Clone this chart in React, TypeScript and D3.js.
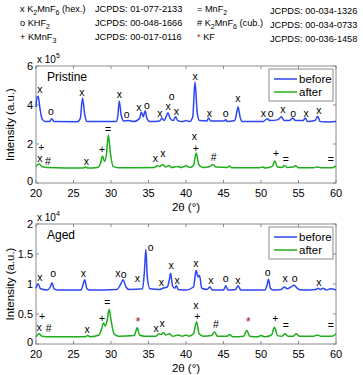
import React from "react";
import * as d3 from "d3";

// 2θ ticks shared by both panels
const xTicks = [20, 25, 30, 35, 40, 45, 50, 55, 60];

// Pristine sample (x 10^5)
const pristineBefore: [number, number][] = [
  [20, 3.9], [20.15, 4.4], [20.3, 4.45], [20.5, 3.9], [20.8, 3.3], [21.2, 3.15], [21.8, 3.15],
  [22.1, 3.3], [22.4, 3.15], [25.5, 3.14], [25.9, 3.3], [26.2, 4.36], [26.5, 3.5], [26.8, 3.15],
  [30.7, 3.15], [30.9, 3.4], [31.1, 4.2], [31.35, 3.5], [31.7, 3.18], [32.3, 3.2], [33.0, 3.15],
  [33.8, 3.3], [34.05, 3.64], [34.3, 3.4], [34.55, 3.7], [34.8, 3.3], [35.2, 3.15], [36.5, 3.18],
  [36.8, 3.33], [37.1, 3.2], [37.4, 3.45], [37.6, 3.6], [37.9, 3.3], [38.3, 3.2], [38.6, 3.4],
  [38.9, 3.2], [39.5, 3.15], [40, 3.2], [40.5, 3.15], [40.9, 3.4], [41.2, 5.18], [41.5, 3.6],
  [41.8, 3.2], [42.8, 3.18], [43.0, 3.33], [43.3, 3.18], [45.1, 3.18], [45.3, 3.25], [45.5, 3.15],
  [46.5, 3.2], [46.7, 3.5], [46.95, 3.9], [47.2, 3.4], [47.5, 3.15], [50.3, 3.15], [50.8, 3.3],
  [51.2, 3.2], [52.3, 3.25], [52.7, 3.4], [53.1, 3.2], [53.8, 3.2], [54.2, 3.33], [54.6, 3.2],
  [55.6, 3.2], [55.9, 3.33], [56.2, 3.15], [57.2, 3.2], [57.55, 3.42], [57.9, 3.15], [59, 3.13],
  [60, 3.15],
];
const pristineAfter: [number, number][] = [
  [20, 0.85], [20.4, 0.97], [20.8, 0.85], [21.5, 0.8], [26.3, 0.77], [26.6, 0.82], [26.9, 0.77],
  [28.2, 0.8], [28.6, 1.0], [28.85, 1.38], [29.15, 1.1], [29.4, 1.5], [29.65, 2.46], [29.9, 1.6],
  [30.3, 0.85], [31, 0.78], [35.8, 0.8], [36.2, 0.88], [36.5, 0.85], [36.9, 0.95], [37.3, 0.82],
  [37.7, 0.9], [38.1, 0.8], [38.8, 0.85], [39.4, 0.8], [40.0, 0.88], [40.5, 0.8], [41.0, 0.9],
  [41.35, 1.54], [41.7, 0.95], [42.2, 0.8], [43.2, 0.85], [43.6, 0.95], [44.0, 0.82], [45.5, 0.8],
  [45.8, 0.87], [46.1, 0.78], [49.8, 0.78], [50.2, 0.82], [50.6, 0.77], [51.5, 0.85], [51.85, 1.13],
  [52.2, 0.82], [52.8, 0.8], [53.1, 0.9], [53.5, 0.8], [54.3, 0.82], [54.6, 0.88], [55, 0.78],
  [57, 0.78], [57.5, 0.82], [58, 0.78], [59.5, 0.78], [60, 0.88],
];

// Aged sample (x 10^4)
const agedBefore: [number, number][] = [
  [20, 0.93], [20.3, 1.0], [20.6, 0.92], [21.5, 0.9], [21.9, 0.95], [22.15, 1.02], [22.4, 0.92],
  [23, 0.9], [26, 0.9], [26.3, 1.0], [26.5, 1.07], [26.8, 0.92], [27.2, 0.9], [30.8, 0.91],
  [31.3, 1.0], [31.6, 1.07], [32.0, 0.95], [32.4, 0.91], [34.2, 0.92], [34.45, 1.2], [34.65, 1.58],
  [34.85, 1.1], [35.2, 0.92], [36.5, 0.91], [36.9, 0.93], [37.5, 0.95], [37.75, 1.05], [37.95, 1.18],
  [38.2, 0.97], [38.5, 0.93], [38.7, 0.97], [38.95, 0.91], [40, 0.9], [41.0, 0.95], [41.35, 1.23],
  [41.6, 1.12], [41.8, 1.14], [42.1, 0.93], [42.8, 0.91], [43.2, 0.95], [43.5, 0.9], [45.0, 0.9],
  [45.3, 0.97], [45.6, 0.9], [46.6, 0.91], [46.95, 0.97], [47.3, 0.9], [50.5, 0.9], [50.8, 0.98],
  [51.0, 1.08], [51.25, 0.93], [51.6, 0.9], [52.7, 0.91], [53.1, 0.95], [53.5, 0.92], [54.0, 0.95],
  [54.4, 0.98], [54.9, 0.92], [55.5, 0.9], [57.3, 0.91], [57.6, 0.93], [57.9, 0.91], [58.3, 0.93],
  [58.7, 0.9], [59.3, 0.92], [60, 0.9],
];
const agedAfter: [number, number][] = [
  [20, 0.12], [20.4, 0.17], [20.8, 0.13], [22, 0.12], [26.6, 0.12], [26.9, 0.14], [27.2, 0.12],
  [28.4, 0.15], [28.75, 0.25], [29.0, 0.35], [29.25, 0.3], [29.5, 0.4], [29.75, 0.58], [30.0, 0.4],
  [30.4, 0.17], [31, 0.13], [33.1, 0.14], [33.5, 0.27], [33.8, 0.15], [34.5, 0.13], [36.0, 0.13],
  [36.4, 0.17], [36.7, 0.16], [37.0, 0.19], [37.3, 0.15], [37.8, 0.17], [38.2, 0.13], [39.0, 0.15],
  [39.5, 0.13], [40, 0.15], [40.4, 0.13], [41.0, 0.17], [41.4, 0.37], [41.75, 0.17], [42.3, 0.13],
  [43.4, 0.14], [43.8, 0.2], [44.2, 0.13], [45.5, 0.13], [45.8, 0.16], [46.2, 0.12], [47.7, 0.13],
  [48.1, 0.23], [48.5, 0.13], [49.5, 0.12], [50.0, 0.14], [50.5, 0.12], [51.4, 0.15], [51.8, 0.28],
  [52.2, 0.14], [52.8, 0.13], [53.2, 0.17], [53.6, 0.13], [54.3, 0.13], [54.7, 0.17], [55.1, 0.13],
  [57, 0.13], [57.5, 0.15], [58, 0.13], [59.5, 0.13], [60, 0.17],
];

// phase markers: [symbol, 2θ, intensity]
type Mark = [string, number, number];
const pristineMarks: Mark[] = [
  ["x", 20.5, 4.8], ["o", 22.0, 3.7], ["x", 26.1, 4.67], ["x", 31.1, 4.56], ["o", 32.1, 3.54],
  ["x", 33.7, 3.9], ["o", 34.8, 4.0], ["x", 36.5, 3.6], ["o", 38.1, 4.46], ["x", 37.6, 3.95],
  ["x", 38.7, 3.7], ["x", 41.2, 5.49], ["x", 43.1, 3.6], ["o", 45.3, 3.6], ["x", 46.9, 4.36],
  ["x", 50.3, 3.6], ["o", 51.3, 3.6], ["x", 52.9, 3.8], ["o", 54.3, 3.6], ["x", 56.0, 3.6],
  ["x", 57.7, 3.74],
  ["+", 20.7, 1.85], ["x", 20.5, 1.3], ["#", 21.6, 1.13], ["x", 26.7, 1.13], ["+", 28.8, 1.74],
  ["=", 29.6, 2.77], ["x", 35.9, 1.28], ["x", 36.9, 1.54], ["x", 41.1, 2.4], ["+", 41.3, 1.82],
  ["#", 43.7, 1.33], ["+", 52.0, 1.54], ["=", 53.3, 1.23], ["=", 59.3, 1.23],
];
const agedMarks: Mark[] = [
  ["x", 20.5, 1.12], ["o", 22.3, 1.18], ["x", 26.3, 1.18], ["x", 30.9, 1.18], ["o", 31.7, 1.17],
  ["x", 33.5, 1.1], ["o", 35.3, 1.62], ["x", 36.7, 1.03], ["x", 38.0, 1.32], ["x", 38.8, 1.07],
  ["x", 41.3, 1.35], ["x", 43.3, 1.07], ["o", 45.3, 1.1], ["x", 46.9, 1.07], ["o", 50.9, 1.2],
  ["x", 53.2, 1.1], ["o", 54.5, 1.1], ["x", 57.7, 1.03],
  ["+", 20.8, 0.47], ["x", 20.4, 0.29], ["#", 21.7, 0.27], ["x", 26.8, 0.25], ["+", 28.8, 0.43],
  ["=", 29.5, 0.7], ["*", 33.6, 0.37], ["x", 36.0, 0.27], ["x", 36.8, 0.35], ["x", 41.3, 0.65],
  ["+", 41.5, 0.46], ["#", 44.0, 0.33], ["*", 48.3, 0.37], ["+", 51.9, 0.43], ["=", 53.3, 0.32],
  ["=", 59.3, 0.32],
];

const FONT = "'Liberation Sans', Arial, sans-serif";
const BLUE = "#2d46f2";
const GREEN = "#1fad1c";
const STAR = "#a8202c";
const AXIS = "#8c8c8c";

const left = 36;
const right = 336;

type PanelProps = {
  top: number;
  bottom: number;
  yMax: number;
  yTicks: number[];
  exp: string;
  title: string;
  before: [number, number][];
  after: [number, number][];
  marks: Mark[];
};

const Panel = ({ top, bottom, yMax, yTicks, exp, title, before, after, marks }: PanelProps) => {
  const x = d3.scaleLinear().domain([20, 60]).range([left, right]);
  const y = d3.scaleLinear().domain([0, yMax]).range([bottom, top]);
  const line = d3
    .line<[number, number]>()
    .x((d) => x(d[0]))
    .y((d) => y(d[1]))
    .curve(d3.curveMonotoneX);
  const lx = right - 67;
  const ly = top + 3;
  return (
    <g fontFamily={FONT}>
      <rect x={left} y={top} width={right - left} height={bottom - top} fill="white" stroke={AXIS} strokeWidth={1} />
      {xTicks.map((t) => (
        <g key={"x" + t}>
          <line x1={x(t)} x2={x(t)} y1={bottom} y2={bottom - 3} stroke={AXIS} />
          <line x1={x(t)} x2={x(t)} y1={top} y2={top + 3} stroke={AXIS} />
          <text x={x(t)} y={bottom + 14} fontSize={11} textAnchor="middle">{t}</text>
        </g>
      ))}
      {yTicks.map((t) => (
        <g key={"y" + t}>
          <line x1={left} x2={left + 3} y1={y(t)} y2={y(t)} stroke={AXIS} />
          <line x1={right - 3} x2={right} y1={y(t)} y2={y(t)} stroke={AXIS} />
          <text x={left - 3} y={y(t) + (t === 0 ? 2 : 4)} fontSize={11} textAnchor="end">{t}</text>
        </g>
      ))}
      <text x={left + 1} y={top - 3} fontSize={10}>
        x 10<tspan dy={-5} fontSize={7}>{exp}</tspan>
      </text>
      <text
        transform={`translate(14,${(top + bottom) / 2}) rotate(-90)`}
        fontSize={11.5}
        textAnchor="middle"
      >
        Intensity (a.u.)
      </text>
      <text x={(left + right) / 2} y={bottom + 28} fontSize={11.5} textAnchor="middle">
        2θ (°)
      </text>
      <path d={line(before) || ""} fill="none" stroke={BLUE} strokeWidth={1.5} />
      <path d={line(after) || ""} fill="none" stroke={GREEN} strokeWidth={1.5} />
      {marks.map((m, i) => (
        <text
          key={i}
          x={x(m[1])}
          y={y(m[2])}
          fontSize={m[0] === "*" ? 13 : 10.5}
          textAnchor="middle"
          dominantBaseline="central"
          fill={m[0] === "*" ? STAR : "black"}
        >
          {m[0]}
        </text>
      ))}
      <text x={left + 11} y={top + 15} fontSize={12}>{title}</text>
      <rect x={lx} y={ly} width={64} height={32} fill="white" stroke={AXIS} />
      <line x1={lx + 5} x2={lx + 28} y1={ly + 10} y2={ly + 10} stroke={BLUE} strokeWidth={1.5} />
      <text x={lx + 30} y={ly + 14} fontSize={11.5}>before</text>
      <line x1={lx + 5} x2={lx + 28} y1={ly + 23} y2={ly + 23} stroke={GREEN} strokeWidth={1.5} />
      <text x={lx + 30} y={ly + 27} fontSize={11.5}>after</text>
    </g>
  );
};

const Sub = ({ c }: { c: string }) => (
  <tspan dy={3} fontSize={7}>{c}</tspan>
);

export default function App() {
  const fs = 9.2;
  return (
    <svg width={363} height={375} style={{ position: "absolute", left: 0, top: 0, background: "white" }}>
      <g fontFamily={FONT} fontSize={fs}>
        <text x={20} y={12}>x K<Sub c="2" /><tspan dy={-3}>MnF</tspan><Sub c="6" /><tspan dy={-3}> (hex.)</tspan></text>
        <text x={20} y={26}>o KHF<Sub c="2" /></text>
        <text x={20} y={40}>+ KMnF<Sub c="3" /></text>
        <text x={95} y={12}>JCPDS: 01-077-2133</text>
        <text x={95} y={26}>JCPDS: 00-048-1666</text>
        <text x={95} y={40}>JCPDS: 00-017-0116</text>
        <text x={197} y={12}>= MnF<Sub c="2" /></text>
        <text x={197} y={26}># K<Sub c="2" /><tspan dy={-3}>MnF</tspan><Sub c="6" /><tspan dy={-3}> (cub.)</tspan></text>
        <text x={197} y={40}><tspan fill={STAR}>*</tspan> KF</text>
        <text x={270} y={14}>JCPDS: 00-034-1326</text>
        <text x={270} y={28}>JCPDS: 00-034-0733</text>
        <text x={270} y={42}>JCPDS: 00-036-1458</text>
      </g>
      <Panel top={66} bottom={183} yMax={6} yTicks={[0, 2, 4, 6]} exp="5" title="Pristine"
        before={pristineBefore} after={pristineAfter} marks={pristineMarks} />
      <Panel top={224} bottom={344} yMax={2} yTicks={[0, 0.5, 1, 1.5, 2]} exp="4" title="Aged"
        before={agedBefore} after={agedAfter} marks={agedMarks} />
    </svg>
  );
}
